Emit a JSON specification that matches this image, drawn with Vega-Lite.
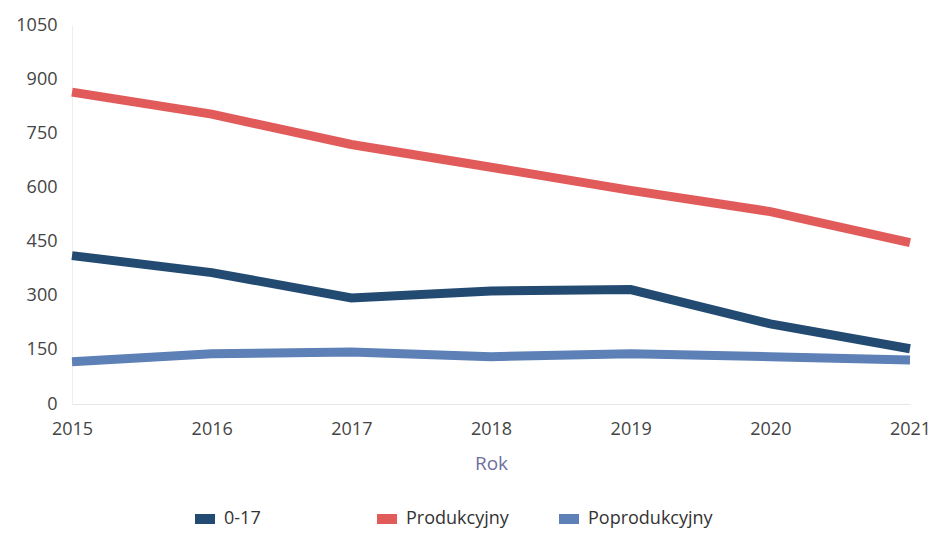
{
  "$schema": "https://vega.github.io/schema/vega-lite/v6.json",
  "width": 838,
  "height": 379,
  "autosize": {"type": "none"},
  "padding": {"left": 72, "top": 25, "right": 28, "bottom": 129},
  "background": "white",
  "data": {"values": [
    {"rok": 2015, "grupa": "0-17", "wartosc": 411},
    {"rok": 2016, "grupa": "0-17", "wartosc": 364},
    {"rok": 2017, "grupa": "0-17", "wartosc": 294},
    {"rok": 2018, "grupa": "0-17", "wartosc": 313},
    {"rok": 2019, "grupa": "0-17", "wartosc": 317},
    {"rok": 2020, "grupa": "0-17", "wartosc": 222},
    {"rok": 2021, "grupa": "0-17", "wartosc": 153},
    {"rok": 2015, "grupa": "Produkcyjny", "wartosc": 864},
    {"rok": 2016, "grupa": "Produkcyjny", "wartosc": 803},
    {"rok": 2017, "grupa": "Produkcyjny", "wartosc": 719},
    {"rok": 2018, "grupa": "Produkcyjny", "wartosc": 656},
    {"rok": 2019, "grupa": "Produkcyjny", "wartosc": 592},
    {"rok": 2020, "grupa": "Produkcyjny", "wartosc": 533},
    {"rok": 2021, "grupa": "Produkcyjny", "wartosc": 447},
    {"rok": 2015, "grupa": "Poprodukcyjny", "wartosc": 117},
    {"rok": 2016, "grupa": "Poprodukcyjny", "wartosc": 139},
    {"rok": 2017, "grupa": "Poprodukcyjny", "wartosc": 144},
    {"rok": 2018, "grupa": "Poprodukcyjny", "wartosc": 131},
    {"rok": 2019, "grupa": "Poprodukcyjny", "wartosc": 139},
    {"rok": 2020, "grupa": "Poprodukcyjny", "wartosc": 131},
    {"rok": 2021, "grupa": "Poprodukcyjny", "wartosc": 122}
  ]},
  "config": {
    "view": {"stroke": null},
    "font": "Open Sans"
  },
  "mark": {"type": "line", "strokeWidth": 9, "strokeCap": "butt", "strokeJoin": "miter"},
  "encoding": {
    "x": {
      "field": "rok", "type": "quantitative",
      "scale": {"domain": [2015, 2021], "nice": false, "zero": false},
      "axis": {
        "values": [2015, 2016, 2017, 2018, 2019, 2020, 2021],
        "format": "d", "grid": false, "ticks": false,
        "labelFlush": false, "labelBound": false, "labelOverlap": false,
        "domainColor": "#e6e6e6", "domainWidth": 1,
        "labelFontSize": 18, "labelColor": "#444444", "labelPadding": 16,
        "labelFont": "Open Sans",
        "title": "Rok", "titleFontSize": 19, "titleFontWeight": "normal",
        "titleColor": "#6f6f9e", "titlePadding": 16, "titleFont": "Open Sans"
      }
    },
    "y": {
      "field": "wartosc", "type": "quantitative",
      "scale": {"domain": [0, 1050], "nice": false},
      "axis": {
        "values": [0, 150, 300, 450, 600, 750, 900, 1050],
        "format": "d", "grid": false, "ticks": false,
        "labelFlush": false, "labelBound": false, "labelOverlap": false,
        "domainColor": "#eeeeee", "domainWidth": 1,
        "labelFontSize": 18, "labelColor": "#444444", "labelPadding": 15,
        "labelFont": "Open Sans", "title": null
      }
    },
    "color": {
      "field": "grupa", "type": "nominal",
      "scale": {
        "domain": ["0-17", "Produkcyjny", "Poprodukcyjny"],
        "range": ["#234b72", "#e25b5b", "#5d80b6"]
      },
      "legend": {
        "title": null, "orient": "none", "legendX": 118, "legendY": 479,
        "direction": "horizontal", "columns": 3, "gridAlign": "all",
        "columnPadding": 8,
        "symbolType": "M-1,0H1", "symbolSize": 400,
        "symbolStrokeWidth": 10, "symbolOpacity": 1,
        "labelFontSize": 18, "labelColor": "#333333", "labelFont": "Open Sans",
        "labelOffset": 4
      }
    }
  }
}
